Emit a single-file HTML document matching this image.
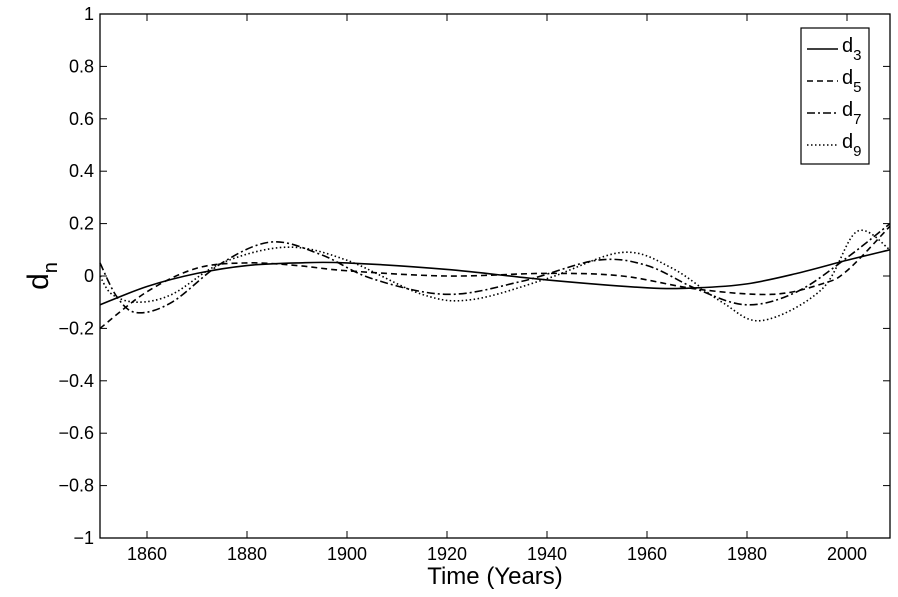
<!DOCTYPE html>
<html><head><style>
body{margin:0;background:#fff;}
svg text{font-family:"Liberation Sans",sans-serif;fill:#000;}
</style></head><body>
<svg id="s" width="898" height="592" xmlns="http://www.w3.org/2000/svg">
<rect width="898" height="592" fill="#fff"/>
<g id="g"></g>
</svg>
<script>
const L=100,R=890,T=14,B=538,x0=1850.6,x1=2008.6;
const X=y=>L+(y-x0)/(x1-x0)*(R-L), Y=v=>276-v*262;
let h='';
h+=`<rect x="${L}" y="${T}" width="${R-L}" height="${B-T}" fill="none" stroke="#000" stroke-width="1.3"/>`;
for(let i=-5;i<=5;i++){const v=i*0.2,y=Y(v);
 h+=`<line x1="${L}" y1="${y}" x2="${L+7}" y2="${y}" stroke="#000"/><line x1="${R}" y1="${y}" x2="${R-7}" y2="${y}" stroke="#000"/>`;
 let s=(Math.abs(v)<1e-9)?'0':(v<0?'\u2212':'')+(Math.abs(v)==1?'1':Math.abs(v).toFixed(1));
 h+=`<text x="${L-6}" y="${y+6}" font-size="18" text-anchor="end">${s}</text>`;}
for(let yr=1860;yr<=2000;yr+=20){const x=X(yr);
 h+=`<line x1="${x}" y1="${B}" x2="${x}" y2="${B-7}" stroke="#000"/><line x1="${x}" y1="${T}" x2="${x}" y2="${T+7}" stroke="#000"/>`;
 h+=`<text x="${x}" y="${B+22}" font-size="18" text-anchor="middle">${yr}</text>`;}
h+=`<text x="${(L+R)/2}" y="${B+46}" font-size="24" text-anchor="middle">Time (Years)</text>`;
h+=`<text transform="translate(48,${276}) rotate(-90)" font-size="30" text-anchor="middle">d<tspan font-size="20" dy="9">n</tspan></text>`;
const S={
d3:[[1850.6,-0.11],[1860,-0.04],[1870,0.01],[1880,0.04],[1890,0.05],[1900,0.05],[1920,0.025],[1940,-0.015],[1960,-0.045],[1970,-0.045],[1980,-0.03],[1990,0.01],[2000,0.06],[2008.6,0.10]],
d5:[[1850.6,-0.20],[1860,-0.06],[1870,0.03],[1880,0.05],[1890,0.04],[1900,0.02],[1920,0.0],[1940,0.01],[1955,0.0],[1970,-0.05],[1985,-0.07],[1995,-0.03],[2000,0.02],[2008.6,0.19]],
d7:[[1850.6,0.05],[1854,-0.08],[1858,-0.14],[1865,-0.10],[1875,0.05],[1885,0.13],[1895,0.08],[1905,-0.01],[1920,-0.07],[1935,-0.02],[1950,0.06],[1960,0.04],[1970,-0.05],[1980,-0.11],[1990,-0.06],[2000,0.07],[2008.6,0.20]],
d9:[[1850.6,0.0],[1853,-0.07],[1858,-0.10],[1865,-0.07],[1875,0.05],[1888,0.11],[1900,0.06],[1915,-0.07],[1925,-0.09],[1940,-0.01],[1955,0.09],[1965,0.03],[1975,-0.10],[1983,-0.17],[1995,-0.05],[2002,0.17],[2008.6,0.10]]};
const dash={d3:'',d5:'6,4',d7:'8,3,2,3',d9:'1.5,2.5'};
function path(p){const q=p.map(a=>[X(a[0]),Y(a[1])]);let d=`M${q[0][0]},${q[0][1]}`;
 for(let i=0;i<q.length-1;i++){const p0=q[Math.max(0,i-1)],p1=q[i],p2=q[i+1],p3=q[Math.min(q.length-1,i+2)];
  d+=`C${p1[0]+(p2[0]-p0[0])/6},${p1[1]+(p2[1]-p0[1])/6} ${p2[0]-(p3[0]-p1[0])/6},${p2[1]-(p3[1]-p1[1])/6} ${p2[0]},${p2[1]}`;}
 return d;}
for(const k in S) h+=`<path d="${path(S[k])}" fill="none" stroke="#000" stroke-width="1.6" stroke-dasharray="${dash[k]}"/>`;
h+=`<rect x="801" y="28" width="68" height="136" fill="#fff" stroke="#000" stroke-width="1.2"/>`;
['d3','d5','d7','d9'].forEach((k,i)=>{const y=49+i*32;
 h+=`<line x1="807" y1="${y}" x2="838" y2="${y}" stroke="#000" stroke-width="1.6" stroke-dasharray="${dash[k]}"/>`;
 h+=`<text x="842" y="${y+3}" font-size="20">d<tspan font-size="15" dy="8">${k[1]}</tspan></text>`;});
document.getElementById('g').innerHTML=h;
</script>
</body></html>
